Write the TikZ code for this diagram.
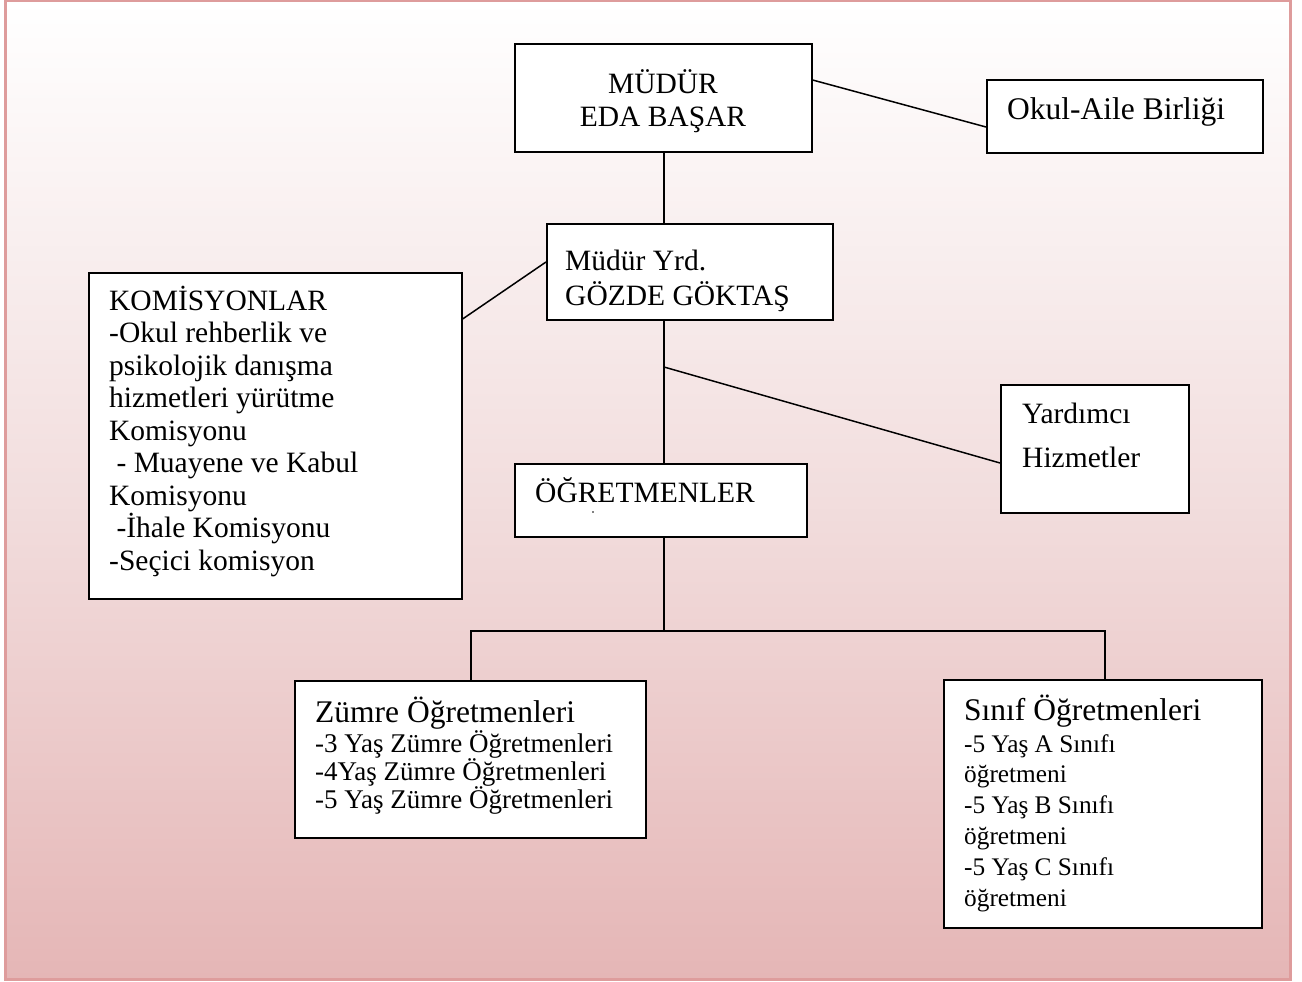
\documentclass[tikz,border=0pt]{standalone}
\usepackage{fontspec}
\setmainfont{Liberation Serif}
\usetikzlibrary{calc}
\definecolor{pagebd}{RGB}{222,156,156}
\definecolor{bgbot}{RGB}{229,182,182}
\definecolor{bgmid}{RGB}{242,222,222}
\tikzset{
  box/.style={draw=black, line width=1.6pt, fill=white, anchor=north west, inner sep=0pt},
  conn/.style={draw=black, line width=1.5pt},
  txt/.style={anchor=base west, inner sep=0pt, font=\fontsize{29.5}{32}\selectfont},
  bigtxt/.style={anchor=base west, inner sep=0pt, font=\fontsize{31.5}{34}\selectfont},
  subtxt/.style={anchor=base west, inner sep=0pt, font=\fontsize{27}{29}\selectfont},
  subtxtb/.style={anchor=base west, inner sep=0pt, font=\fontsize{25.3}{28}\selectfont},
}
\begin{document}
\begin{tikzpicture}[x=1pt,y=-1pt]
\useasboundingbox (0,0) rectangle (1302,982);
\shade[top color=white, bottom color=bgbot, middle color=bgmid] (5,1) rectangle (1290,979);
\draw[pagebd, line width=3pt] (5,1) rectangle (1290,979);

% boxes
\node[box, minimum width=297pt, minimum height=108pt] (mudur) at (514,43) {};
\node[box, minimum width=276pt, minimum height=73pt] (okul) at (986,79) {};
\node[box, minimum width=286pt, minimum height=96pt] (yrd) at (546,223) {};
\node[box, minimum width=373pt, minimum height=326pt] (kom) at (88,272) {};
\node[box, minimum width=188pt, minimum height=128pt] (yard) at (1000,384) {};
\node[box, minimum width=292pt, minimum height=73pt] (ogr) at (514,463) {};
\node[box, minimum width=351pt, minimum height=157pt] (zumre) at (294,680) {};
\node[box, minimum width=318pt, minimum height=248pt] (sinif) at (943,679) {};

% connectors
\coordinate (spineA) at (664,151);
\coordinate (spineB) at (664,223);
\coordinate (spineC) at (664,319);
\coordinate (branch) at (664,367);
\coordinate (spineD) at (664,463);
\coordinate (spineE) at (664,536);
\coordinate (bus) at (664,631);
\coordinate (zumreTop) at (471,680);
\coordinate (sinifTop) at (1105,679);
\draw[conn] (spineA) -- (spineB);
\draw[conn] ([yshift=-37pt]mudur.north east) -- ([yshift=-48pt]okul.north west);
\draw[conn] ([yshift=-39pt]yrd.north west) -- ([yshift=-47pt]kom.north east);
\draw[conn] (spineC) -- (spineD);
\draw[conn] (branch) -- ([yshift=-79pt]yard.north west);
\draw[conn] (spineE) -- (bus);
\draw[conn] (zumreTop) |- (bus) -| (sinifTop);

% texts
\node[txt, anchor=base] (mudur1) at (663,93) {MÜDÜR};
\node[txt, anchor=base] (mudur2) at (663,126) {EDA BAŞAR};
\node[bigtxt] (okul1) at (1007,120) {Okul-Aile Birliği};
\node[txt] (yrd1) at (565,270) {Müdür Yrd.};
\node[txt] (yrd2) at (565,305) {GÖZDE GÖKTAŞ};
\node[txt] (kom1) at (109,310) {KOMİSYONLAR};
\node[txt] (kom2) at (109,342.5) {-Okul rehberlik ve};
\node[txt] (kom3) at (109,375) {psikolojik danışma};
\node[txt] (kom4) at (109,407.5) {hizmetleri yürütme};
\node[txt] (kom5) at (109,440) {Komisyonu};
\node[txt] (kom6) at (109,472.5) {\ - Muayene ve Kabul};
\node[txt] (kom7) at (109,505) {Komisyonu};
\node[txt] (kom8) at (109,537.5) {\ -İhale Komisyonu};
\node[txt] (kom9) at (109,570) {-Seçici komisyon};
\node[txt] (yard1) at (1022,423) {Yardımcı};
\node[txt] (yard2) at (1022,467) {Hizmetler};
\node[txt] (ogr1) at (535,502) {ÖĞRETMENLER};
\fill (593,512) circle (0.9pt);
\node[bigtxt] (zum1) at (315,722) {Zümre Öğretmenleri};
\node[subtxt] (zum2) at (315,752) {-3 Yaş Zümre Öğretmenleri};
\node[subtxt] (zum3) at (315,780) {-4Yaş Zümre Öğretmenleri};
\node[subtxt] (zum4) at (315,808) {-5 Yaş Zümre Öğretmenleri};
\node[bigtxt] (sin1) at (964,720) {Sınıf Öğretmenleri};
\node[subtxtb] (sin2) at (964,752) {-5 Yaş A Sınıfı};
\node[subtxtb] (sin3) at (964,782) {öğretmeni};
\node[subtxtb] (sin4) at (964,813) {-5 Yaş B Sınıfı};
\node[subtxtb] (sin5) at (964,844) {öğretmeni};
\node[subtxtb] (sin6) at (964,875) {-5 Yaş C Sınıfı};
\node[subtxtb] (sin7) at (964,906) {öğretmeni};
\end{tikzpicture}
\end{document}
